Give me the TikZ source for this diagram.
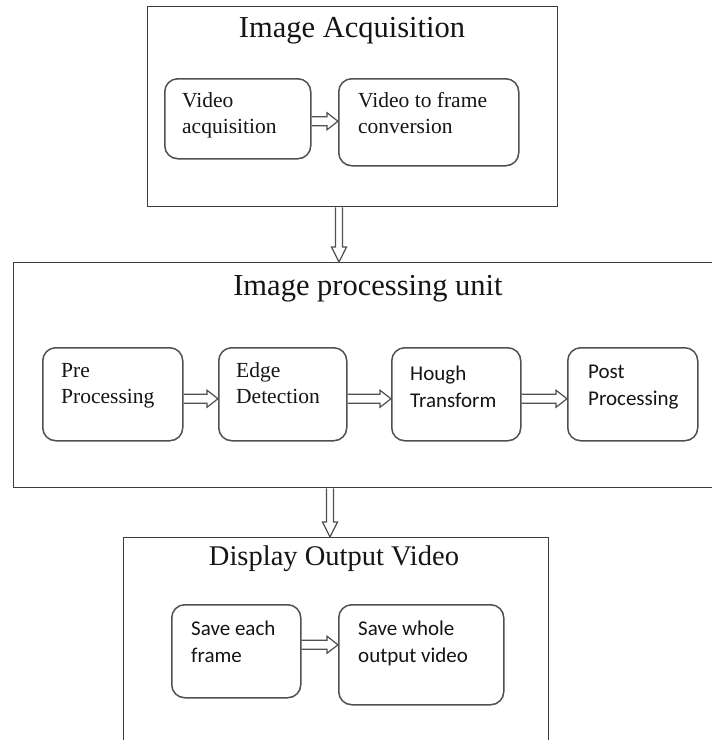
\documentclass[tikz,border=0pt]{standalone}
\usepackage{fontspec}
\setmainfont{Liberation Serif}
\newfontfamily\calibfont{Carlito}
\usetikzlibrary{calc}
\newcommand\mytwolines[2]{\vtop{\hbox{#1}\hbox{#2}}}
\definecolor{framecol}{HTML}{3C3C3C}
\definecolor{boxcol}{HTML}{505050}
\definecolor{txtcol}{HTML}{151515}
\tikzset{
 outerbox/.style={draw=framecol, line width=1.3pt, rectangle, inner sep=0pt, anchor=north west},
 stagebox/.style={draw=boxcol, line width=1.5pt, rounded corners=13pt, rectangle, inner sep=0pt, anchor=north west},
 titletext/.style={font=\fontsize{30.5}{36}\selectfont, text=txtcol, anchor=base, inner sep=0pt},
 serifbody/.style={font=\fontsize{21.5}{26}\selectfont, text=txtcol, anchor=base west, inner sep=0pt},
 sansbody/.style={font=\calibfont\fontsize{21}{27}\selectfont, text=txtcol, anchor=base west, inner sep=0pt},
 blockarrow/.style={draw=boxcol, line width=1.2pt, line join=miter},
}
\newcommand\harrow[2]{\draw[blockarrow] let \p1=(#1), \p2=(#2) in
  (\x1,\y1+4.5pt) -- (\x2-11pt,\y1+4.5pt) -- (\x2-11pt,\y1+8.5pt) -- (\x2,\y1) -- (\x2-11pt,\y1-8.5pt) -- (\x2-11pt,\y1-4.5pt) -- (\x1,\y1-4.5pt);}
\newcommand\varrow[2]{\draw[blockarrow] let \p1=(#1), \p2=(#2) in
  (\x1-3.5pt,\y1) -- (\x1-3.5pt,\y2+15pt) -- (\x1-7.5pt,\y2+15pt) -- (\x1,\y2) -- (\x1+7.5pt,\y2+15pt) -- (\x1+3.5pt,\y2+15pt) -- (\x1+3.5pt,\y1);}
\begin{document}
\begin{tikzpicture}[x=1pt,y=-1pt]
\path[use as bounding box, fill=white] (0,0) rectangle (712,740);
% Image acquisition
\node[outerbox, minimum width=410pt, minimum height=200pt] (acqbox) at (147,6) {};
\node[titletext] (acqtitle) at (352,37) {Image Acquisition};
\node[stagebox, minimum width=146pt, minimum height=80pt] (va) at (164,78) {};
\node[stagebox, minimum width=180pt, minimum height=87pt] (vf) at (338,78) {};
\node[serifbody] (vatext) at (182,107) {\mytwolines{Video}{acquisition}};
\node[serifbody] (vftext) at (358,107) {\mytwolines{Video to frame}{conversion}};
\harrow{$(va.east)+(0,2.5)$}{vf.west}
% Image processing unit
\node[outerbox, minimum width=710pt, minimum height=225pt] (procbox) at (13,262) {};
\node[titletext] (proctitle) at (368,295) {Image processing unit};
\node[stagebox, minimum width=140pt, minimum height=93pt] (pre) at (42,347) {};
\node[stagebox, minimum width=128pt, minimum height=93pt] (edge) at (218,347) {};
\node[stagebox, minimum width=129pt, minimum height=93pt] (hough) at (391,347) {};
\node[stagebox, minimum width=130pt, minimum height=93pt] (post) at (567,347) {};
\node[serifbody] (pretext) at (61,377) {\mytwolines{Pre}{Processing}};
\node[serifbody] (edgetext) at (236,377) {\mytwolines{Edge}{Detection}};
\node[sansbody] (houghtext) at (410,380) {\mytwolines{Hough}{Transform}};
\node[sansbody] (posttext) at (588,378) {\mytwolines{Post}{Processing}};
\harrow{$(pre.east)+(0,4.5)$}{edge.west}
\harrow{$(edge.east)+(0,4.5)$}{hough.west}
\harrow{$(hough.east)+(0,4.5)$}{post.west}
% Display output video
\node[outerbox, minimum width=425pt, minimum height=215pt] (dispbox) at (123,537) {};
\node[titletext, font=\fontsize{28.5}{34}\selectfont] (disptitle) at (334,565) {Display Output Video};
\node[stagebox, minimum width=129pt, minimum height=93pt] (saveeach) at (171,604) {};
\node[stagebox, minimum width=165pt, minimum height=100pt] (savewhole) at (338,604) {};
\node[sansbody] (setext) at (191,635) {\mytwolines{Save each}{frame}};
\node[sansbody] (swtext) at (358,635) {\mytwolines{Save whole}{output video}};
\harrow{$(saveeach.east)+(0,-6.5)$}{savewhole.west}
% vertical connectors
\varrow{$(acqbox.south west)+(192,0)$}{procbox.north}
\varrow{$(procbox.south west)+(317,0)$}{dispbox.north}
\end{tikzpicture}
\end{document}
